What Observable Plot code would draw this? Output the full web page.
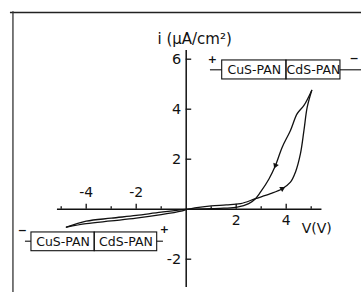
<!DOCTYPE html>
<html><head><meta charset="utf-8">
<script src="https://cdn.jsdelivr.net/npm/d3@7"></script>
<script src="https://cdn.jsdelivr.net/npm/@observablehq/plot@0.6"></script>
<style>body{margin:0;background:#fff} svg{display:block}</style>
</head><body><div id="chart"></div>
<script>
// Forward sweep (lower branch), V in volts, i in µA/cm²
const forwardV = [-4.79, -4.0, -3.0, -2.0, -1.0, -0.2, 0.0, 0.5, 1.0, 1.6, 2.17, 2.77, 3.37, 3.84, 4.17, 4.37, 4.57, 4.71, 4.84, 5.02];
const forwardI = [-0.72, -0.58, -0.47, -0.36, -0.22, -0.08, -0.02, 0.07, 0.13, 0.17, 0.22, 0.42, 0.62, 0.82, 1.08, 1.48, 2.22, 3.15, 4.08, 4.75];
// Reverse sweep (upper branch)
const reverseV = [5.02, 4.71, 4.44, 4.17, 3.84, 3.57, 3.31, 2.97, 2.77, 2.5, 2.04, 1.5, 1.0, 0.4, 0.0, -1.0, -2.0, -3.0, -4.0, -4.79];
const reverseI = [4.75, 4.15, 3.82, 3.15, 2.48, 1.75, 1.21, 0.68, 0.42, 0.22, 0.08, 0.04, 0.02, 0.0, -0.01, -0.12, -0.25, -0.36, -0.48, -0.72];

const xMajorTicks = [-4, -2, 2, 4];
const xMinorTicks = [-5, -3, -1, 1, 3, 5];
const xLabelsAbove = [-4, -2];
const xLabelsBelow = [2, 4];
const yTicks = [6, 4, 2, -2];
const yTickLabels = ["6", "4", "2", "-2"];
const layerNames = ["CuS-PAN", "CdS-PAN"];
const xTitle = "V(V)";
const yTitle = "i (μA/cm²)";

const fwd = forwardV.map((v, k) => ({v, i: forwardI[k]}));
const rev = reverseV.map((v, k) => ({v, i: reverseI[k]}));

// Cell diagrams (device schematics) in data coordinates
const cells = [
  {x1: 1.44, xm: 4.01, x2: 6.17, yt: 5.95, yb: 5.19, yl: 5.576, leadL: 0.97, leadR: 7.05},
  {x1: -6.19, xm: -3.66, x2: -1.16, yt: -0.93, yb: -1.68, yl: -1.28, leadL: -6.43, leadR: -0.91}
];
const boxes = cells.flatMap(c => [
  {x1: c.x1, x2: c.xm, y1: c.yb, y2: c.yt, label: layerNames[0]},
  {x1: c.xm, x2: c.x2, y1: c.yb, y2: c.yt, label: layerNames[1]}
]);
const leads = cells.flatMap(c => [
  {x1: c.leadL, x2: c.x1, y: c.yl}, {x1: c.x2, x2: c.leadR, y: c.yl}
]);
const plusSigns = [{x: 1.05, y: 5.99}, {x: -0.87, y: -0.80}];
const minusSigns = [{x: 6.72, y: 6.03}, {x: -6.55, y: -0.86}];

const W = 361, H = 292;
const ppu = 25, x0 = 185.7, y0 = 208.7;

const chart = Plot.plot({
  width: W, height: H,
  margin: 0,
  x: {domain: [-x0 / ppu, (W - x0) / ppu], axis: null},
  y: {domain: [-(H - y0) / ppu, y0 / ppu], axis: null},
  style: {fontFamily: "DejaVu Sans, sans-serif", background: "#fff", color: "#111"},
  marks: [
    // frame of the scanned figure
    Plot.ruleY([7.87], {x1: -7.03, x2: 7.1, stroke: "#222", strokeWidth: 1.6}),
    Plot.ruleX([-6.93], {y1: 7.9, y2: -3.4, stroke: "#333", strokeWidth: 1.3}),
    // axes
    Plot.ruleY([0], {x1: -5.15, x2: 5.43, stroke: "#111", strokeWidth: 1.5}),
    Plot.ruleX([0], {y1: 6.35, y2: -3.13, stroke: "#111", strokeWidth: 1.5}),
    Plot.ruleX(xMajorTicks, {y1: 0, y2: 0.2, stroke: "#111", strokeWidth: 1.3}),
    Plot.ruleX(xMinorTicks, {y1: 0, y2: 0.1, stroke: "#111", strokeWidth: 1.3}),
    Plot.ruleY(yTicks, {x1: 0, x2: 0.22, stroke: "#111", strokeWidth: 1.3}),
    Plot.text(xLabelsAbove, {x: d => d, y: 0.67, text: d => "-" + Math.abs(d), fontSize: 14, fill: "#111"}),
    Plot.text(xLabelsBelow, {x: d => d, y: -0.45, text: d => String(d), fontSize: 14, fill: "#111"}),
    Plot.text(yTicks, {x: -0.2, y: d => d, text: (d, k) => yTickLabels[k], textAnchor: "end", fontSize: 14.5, fill: "#111"}),
    Plot.text([xTitle], {x: 5.22, y: -0.77, text: d => d, fontSize: 14, fill: "#111"}),
    Plot.text([yTitle], {x: -1.15, y: 6.62, text: d => d, textAnchor: "start", lineAnchor: "bottom", fontSize: 15, fill: "#111"}),
    // I-V hysteresis loop
    Plot.line(fwd, {x: "v", y: "i", stroke: "#111", strokeWidth: 1.3, curve: "catmull-rom"}),
    Plot.line(rev, {x: "v", y: "i", stroke: "#111", strokeWidth: 1.3, curve: "catmull-rom"}),
    Plot.dot([{v: 3.57, i: 1.75, r: 202}, {v: 3.84, i: 0.82, r: 60}], {x: "v", y: "i", rotate: "r", symbol: "triangle", r: 2.2, fill: "#111", stroke: "none"}),
    // cell schematics
    Plot.rect(boxes, {x1: "x1", x2: "x2", y1: "y1", y2: "y2", fill: "none", stroke: "#111", strokeWidth: 1.1}),
    Plot.text(boxes, {x: d => (d.x1 + d.x2) / 2, y: d => (d.y1 + d.y2) / 2, text: "label", fontSize: 12.5, fill: "#111"}),
    Plot.ruleY(leads, {x1: "x1", x2: "x2", y: "y", stroke: "#111", strokeWidth: 1.1}),
    Plot.text(plusSigns, {x: "x", y: "y", text: () => "+", fontSize: 11, fontWeight: "bold", fill: "#111"}),
    Plot.text(minusSigns, {x: "x", y: "y", text: () => "−", fontSize: 11, fontWeight: "bold", fill: "#111"})
  ]
});
document.getElementById("chart").append(chart);
</script>
</body></html>
